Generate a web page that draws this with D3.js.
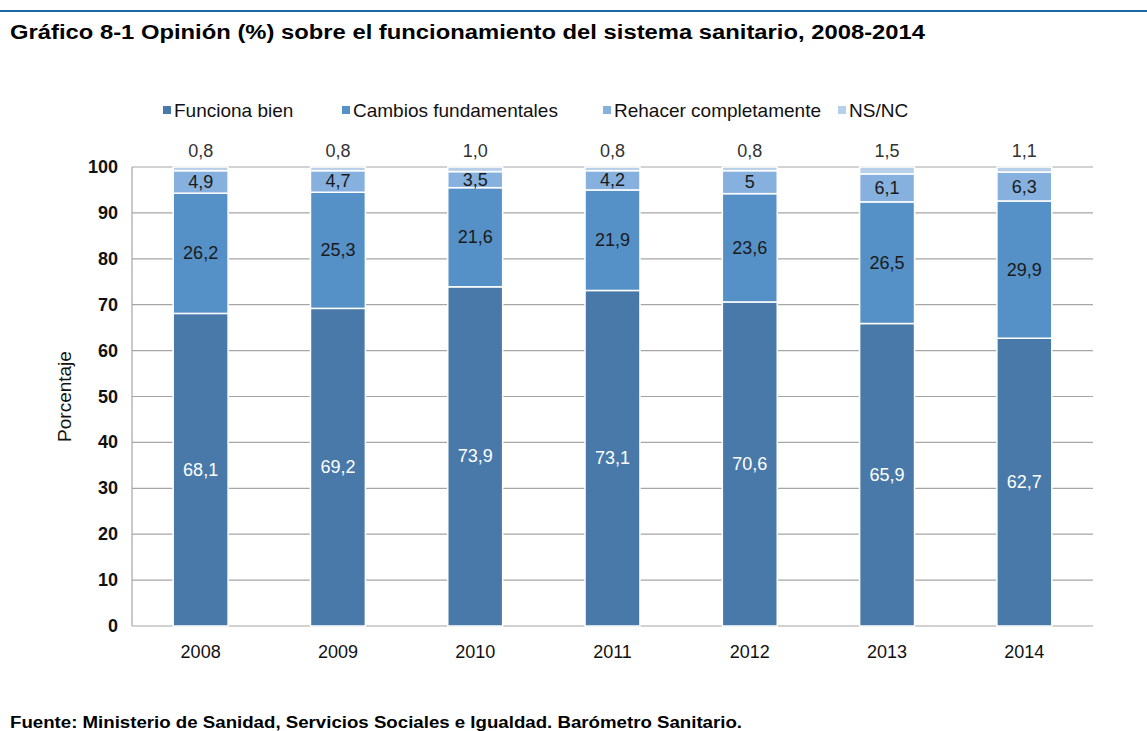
<!DOCTYPE html>
<html>
<head>
<meta charset="utf-8">
<script src="https://cdn.jsdelivr.net/npm/d3@7"></script>
<style>
  body { margin: 0; background: #fff; }
  svg { display: block; font-family: 'Liberation Sans', Arial, sans-serif; }
</style>
</head>
<body>
<div id="chart"></div>
<script>
// DATA
let years = ['2008', '2009', '2010', '2011', '2012', '2013', '2014']
let series = ['Funciona bien', 'Cambios fundamentales', 'Rehacer completamente', 'NS/NC']
let funcionaBien = [68.1, 69.2, 73.9, 73.1, 70.6, 65.9, 62.7]
let cambios = [26.2, 25.3, 21.6, 21.9, 23.6, 26.5, 29.9]
let rehacer = [4.9, 4.7, 3.5, 4.2, 5, 6.1, 6.3]
let nsnc = [0.8, 0.8, 1.0, 0.8, 0.8, 1.5, 1.1]
let yTicks = [0, 10, 20, 30, 40, 50, 60, 70, 80, 90, 100]

let colors = ['#4879a9', '#5591c7', '#86b0dd', '#b8cfe9']

// CHART SETUP
let width = 1147, height = 731
let margin = { top: 167, left: 132, right: 54, bottom: 105 }

let svg = d3.select('#chart').append('svg')
  .attr('width', width)
  .attr('height', height)

// top rule
svg.append('line')
  .attr('x1', 0).attr('x2', width)
  .attr('y1', 11).attr('y2', 11)
  .style('stroke', '#1a67a6').style('stroke-width', 2)

svg.append('text')
  .attr('x', 10).attr('y', 39)
  .attr('textLength', 915)
  .attr('lengthAdjust', 'spacingAndGlyphs')
  .style('font-size', '20px')
  .style('font-weight', 700)
  .style('fill', '#000')
  .text('Gráfico 8-1 Opinión (%) sobre el funcionamiento del sistema sanitario, 2008-2014')

svg.append('text')
  .attr('x', 10).attr('y', 728)
  .attr('textLength', 732)
  .attr('lengthAdjust', 'spacingAndGlyphs')
  .style('font-size', '16px')
  .style('font-weight', 700)
  .text('Fuente: Ministerio de Sanidad, Servicios Sociales e Igualdad. Barómetro Sanitario.')

let x = d3.scaleBand()
  .domain(years)
  .range([margin.left, width - margin.right])
  .paddingInner(0.6)
  .paddingOuter(0.3)

let y = d3.scaleLinear()
  .domain([0, 100])
  .range([height - margin.bottom, margin.top])

// gridlines
svg.append('g').selectAll('line')
  .data(yTicks)
  .enter().append('line')
  .attr('x1', margin.left).attr('x2', width - margin.right)
  .attr('y1', d => y(d)).attr('y2', d => y(d))
  .style('stroke', '#a6a6a6').style('stroke-width', 1.2)

svg.append('line')
  .attr('x1', margin.left).attr('x2', margin.left)
  .attr('y1', y(0)).attr('y2', y(100))
  .style('stroke', '#a6a6a6').style('stroke-width', 1.2)

// y tick labels
svg.append('g').selectAll('text')
  .data(yTicks)
  .enter().append('text')
  .attr('x', 118)
  .attr('y', d => y(d) + 6)
  .style('text-anchor', 'end')
  .style('font-size', '18px')
  .style('font-weight', 700)
  .style('fill', '#111')
  .text(d => d)

svg.append('text')
  .attr('transform', 'translate(71,' + y(50) + ') rotate(-90)')
  .style('text-anchor', 'middle')
  .style('font-size', '19px')
  .style('fill', '#111')
  .text('Porcentaje')

// x labels
svg.append('g').selectAll('text')
  .data(years)
  .enter().append('text')
  .attr('x', d => x(d) + x.bandwidth() / 2)
  .attr('y', 658)
  .style('text-anchor', 'middle')
  .style('font-size', '18px')
  .style('fill', '#111')
  .text(d => d)

// stacked data
let rows = years.map((yr, i) => ({
  year: yr,
  'Funciona bien': funcionaBien[i],
  'Cambios fundamentales': cambios[i],
  'Rehacer completamente': rehacer[i],
  'NS/NC': nsnc[i]
}))

let stacked = d3.stack().keys(series)(rows)

let fmt = function (v, k) {
  if (k === 3) return v.toFixed(1).replace('.', ',')
  return String(v).replace('.', ',')
}

let layers = svg.selectAll('.layer')
  .data(stacked)
  .enter().append('g')
  .attr('class', 'layer')
  .style('fill', (d, i) => colors[i])

layers.selectAll('rect')
  .data(d => d)
  .enter().append('rect')
  .attr('x', d => x(d.data.year))
  .attr('width', x.bandwidth())
  .attr('y', d => y(d[1]))
  .attr('height', d => y(d[0]) - y(d[1]))
  .style('stroke', '#fff')
  .style('stroke-width', 1.5)

// segment labels
stacked.forEach(function (layer, k) {
  svg.append('g').selectAll('text')
    .data(layer)
    .enter().append('text')
    .attr('x', d => x(d.data.year) + x.bandwidth() / 2)
    .attr('y', function (d) {
      if (k === 3) return y(100) - 10
      return (y(d[0]) + y(d[1])) / 2 + 6
    })
    .style('text-anchor', 'middle')
    .style('font-size', '18px')
    .style('fill', k === 0 ? '#fff' : (k === 3 ? '#333' : '#1a1a1a'))
    .text(d => fmt(+(d[1] - d[0]).toFixed(1), k))
})

// legend
let legendX = [163, 342, 603, 838]
let legend = svg.append('g').selectAll('g')
  .data(series)
  .enter().append('g')
  .attr('transform', (d, i) => 'translate(' + legendX[i] + ',110)')

legend.append('rect')
  .attr('x', 0).attr('y', -4)
  .attr('width', 8).attr('height', 8)
  .style('fill', (d, i) => colors[i])

legend.append('text')
  .attr('x', 11).attr('y', 7)
  .style('font-size', '19px')
  .style('fill', '#111')
  .text(d => d)
</script>
</body>
</html>
